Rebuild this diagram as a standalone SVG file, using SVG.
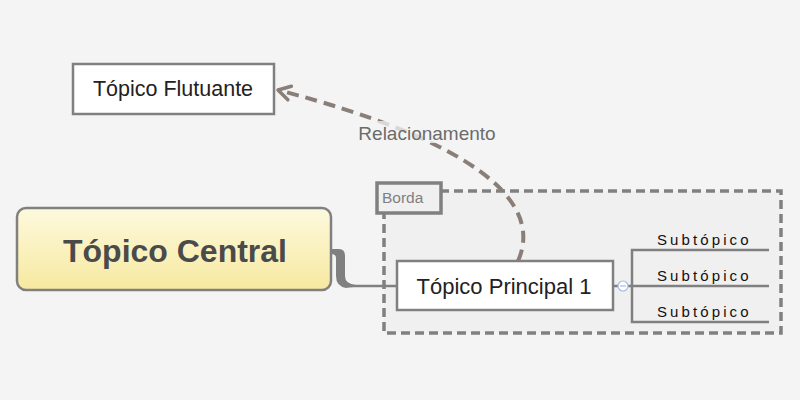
<svg xmlns="http://www.w3.org/2000/svg" width="800" height="400" viewBox="0 0 800 400">
<defs>
<linearGradient id="cg" x1="0" y1="0" x2="0" y2="1">
<stop offset="0" stop-color="#fdf9de"/>
<stop offset="1" stop-color="#f7e9a0"/>
</linearGradient>
<marker id="arr" viewBox="0 0 20 20" refX="17" refY="10" markerWidth="20" markerHeight="20" markerUnits="userSpaceOnUse" orient="auto">
<path d="M5,3 L17,10 L5,17" fill="none" stroke="#8a7f78" stroke-width="3.5" stroke-linecap="round" stroke-linejoin="round"/>
</marker>
<style>
.box{fill:#fff;stroke:#808080;stroke-width:2.5}
.t{font-family:"Liberation Sans",Arial,sans-serif;fill:#222}
.ln{stroke:#808080;stroke-width:2.5;fill:none}
.sub{font-family:"Liberation Sans",Arial,sans-serif;font-size:15px;letter-spacing:3.1px;fill:#111}
</style>
</defs>
<rect width="800" height="400" fill="#f4f4f4"/>

<g id="boundary">
<rect x="384" y="191" width="397" height="142" fill="#f0f0f0" stroke="#808080" stroke-width="3.5" stroke-dasharray="9,5"/>
<rect x="377" y="183" width="64" height="30" fill="#f0f0f0" stroke="#808080" stroke-width="3.5"/>
<text x="382" y="203" class="t" font-size="15.5" style="fill:#808080">Borda</text>
</g>

<g id="connectors">
<path d="M331,249 L339,249 Q345,249 345,256 L345,276 Q345,284 356,285 L360,286 L346,288 Q336,286 336,276 L336,258 Q336,254 331,254 Z" fill="#808080"/>
<line x1="350" y1="286" x2="398" y2="286" class="ln"/>
<line x1="613" y1="286" x2="618" y2="286" class="ln"/>
<line x1="628" y1="286" x2="632" y2="286" class="ln"/>
<path d="M769,250 L632,250 L632,322 L769,322 M632,286 L769,286" class="ln"/>
<path d="M518,261 C545,200 470,140 278,90" fill="none" stroke="#8a7f78" stroke-width="4" stroke-dasharray="12,7" marker-end="url(#arr)"/>
<rect x="354" y="121" width="146" height="22" fill="#f4f4f4" opacity="0.75"/>
<text x="427" y="140" text-anchor="middle" class="t" font-size="19" style="fill:#6b6b6b">Relacionamento</text>
</g>

<g id="central">
<rect x="17" y="208" width="314" height="82" rx="9" fill="url(#cg)" stroke="#808080" stroke-width="2.5"/>
<text x="175" y="262" text-anchor="middle" class="t" font-size="32" font-weight="bold" style="fill:#4a4a4a">Tópico Central</text>
</g>

<g id="main1">
<rect x="397" y="261" width="216" height="49" class="box"/>
<text x="504" y="294" text-anchor="middle" class="t" font-size="22">Tópico Principal 1</text>
<circle cx="623" cy="286" r="5" fill="#fff" stroke="#a8b8e8" stroke-width="1.2"/>
<line x1="620" y1="286" x2="626" y2="286" stroke="#a8b8e8" stroke-width="1.2"/>
</g>

<g id="sub1"><text x="657" y="245" class="sub">Subtópico</text></g>
<g id="sub2"><text x="657" y="281" class="sub">Subtópico</text></g>
<g id="sub3"><text x="657" y="317" class="sub">Subtópico</text></g>

<g id="floating">
<rect x="73" y="64" width="201" height="50" class="box"/>
<text x="173" y="96" text-anchor="middle" class="t" font-size="21.5">Tópico Flutuante</text>
</g>
</svg>
